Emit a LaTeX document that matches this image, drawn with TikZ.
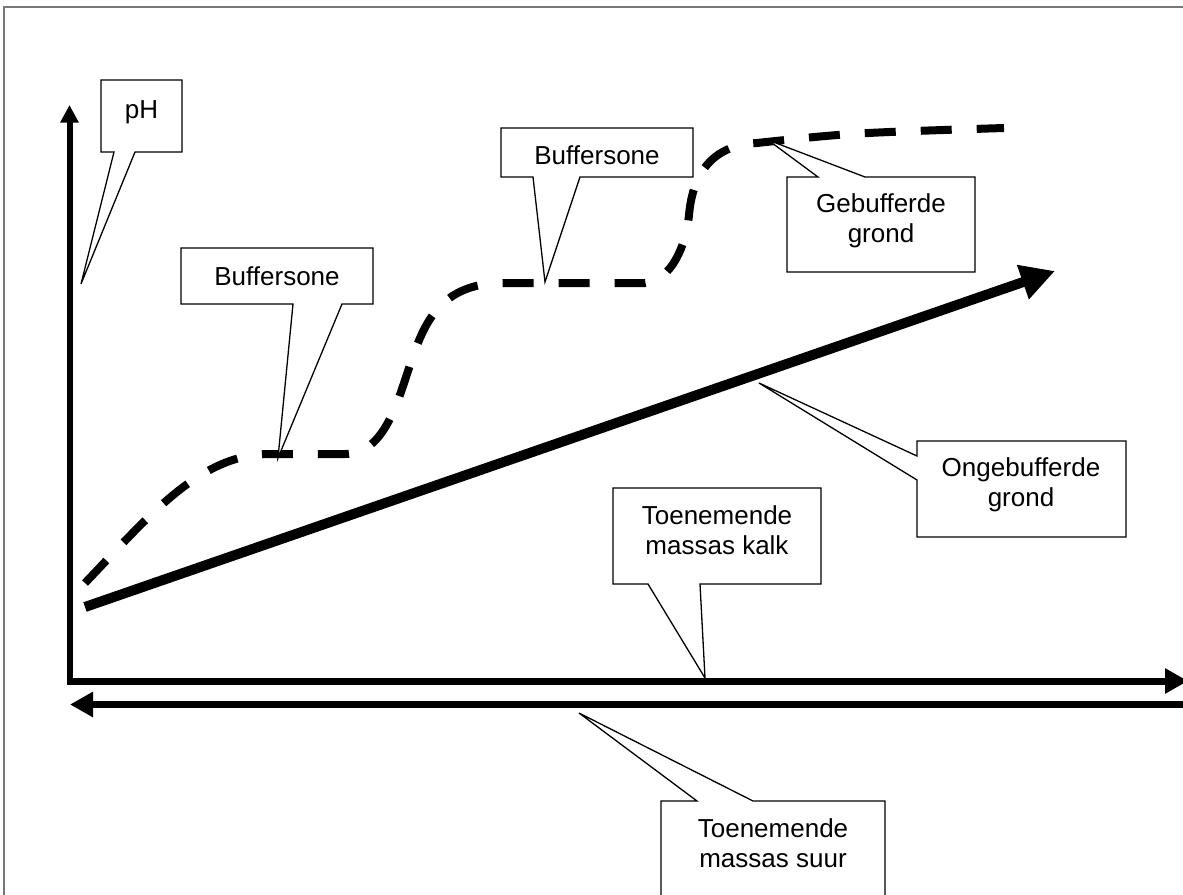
\documentclass[tikz,border=0pt]{standalone}
\usepackage{fontspec}
\setmainfont{Liberation Sans}
\usetikzlibrary{arrows.meta}
\definecolor{framegray}{RGB}{120,120,120}
\tikzset{
  vaxis/.style={line width=6pt, -{Triangle[length=17.7pt,width=17.6pt]}},
  haxis/.style={line width=7pt, -{Triangle[length=23pt,width=24pt]}},
  bigarrow/.style={line width=10pt, -{Triangle[length=34pt,width=34pt]}},
  buffered/.style={line width=8pt, dash pattern=on 31pt off 25pt},
  callout/.style={draw=black, line width=1.3pt, fill=white, line join=miter},
  lbl/.style={font=\fontsize{26}{30}\selectfont, align=center, inner sep=0pt},
}
\begin{document}
\begin{tikzpicture}[x=1pt,y=-1pt]
\useasboundingbox (0,0) rectangle (1183,894);
\clip (0,0) rectangle (1183,894);
% frame
\draw[framegray, line width=1.5pt] (4,7) rectangle (1200,910);

% axes
\coordinate (yBot) at (69.5,684);
\coordinate (yTop) at (69.5,105);
\coordinate (xLeft) at (66.5,681);
\coordinate (xRight) at (1188,681);
\coordinate (sRight) at (1200,704.5);
\coordinate (sLeft) at (70,704.5);
\draw[vaxis] (yBot) -- (yTop);
\draw[haxis] (xLeft) -- (xRight);
\draw[haxis] (sRight) -- (sLeft);

% unbuffered soil
\coordinate (uStart) at (85,607);
\coordinate (uEnd) at (1055,271);
\draw[bigarrow] (uStart) -- (uEnd);

% buffered soil
\coordinate (b0) at (85,583);
\coordinate (b1) at (270,454);
\coordinate (b2) at (345,454);
\coordinate (b3) at (411,362);
\coordinate (b4) at (503,283);
\coordinate (b5) at (645,283);
\coordinate (b6) at (689,215);
\coordinate (b7) at (757,143);
\coordinate (b8) at (1004,128);
\draw[buffered] (b0) .. controls (150,515) and (200,454) .. (b1) -- (b2)
  .. controls (385,454) and (398,400) .. (b3)
  .. controls (424,324) and (440,283) .. (b4) -- (b5)
  .. controls (672,280) and (686,245) .. (b6)
  .. controls (693,170) and (715,145) .. (b7)
  .. controls (850,133) .. (b8);

% callout tips
\coordinate (tipPH) at (81,284);
\coordinate (tipBufA) at (278,458);
\coordinate (tipBufB) at (545,282);
\coordinate (tipGeb) at (768,140);
\coordinate (tipOng) at (759,383);
\coordinate (tipKalk) at (705,678);
\coordinate (tipSuur) at (579,713);

% callouts
\draw[callout] (101,80) -- (182,80) -- (182,152) -- (135,152) -- (tipPH) -- (114,152) -- (101,152) -- cycle;
\node[lbl] (pHlbl) at (141.5,112) {pH};

\draw[callout] (181,248) -- (373,248) -- (373,304) -- (342,304) -- (tipBufA) -- (293,304) -- (181,304) -- cycle;
\node[lbl] (bufA) at (277,276) {Buffersone};

\draw[callout] (501,128) -- (693,128) -- (693,177) -- (580,177) -- (tipBufB) -- (533,177) -- (501,177) -- cycle;
\node[lbl] (bufB) at (597,155) {Buffersone};

\draw[callout] (787,177) -- (818,177) -- (tipGeb) -- (865,177) -- (975,177) -- (975,272) -- (787,272) -- cycle;
\node[lbl] (geb) at (881,221) {Gebufferde\\grond};

\draw[callout] (917,441) -- (1126,441) -- (1126,537) -- (917,537) -- (917,480) -- (tipOng) -- (917,456) -- cycle;
\node[lbl] (ong) at (1021,485) {Ongebufferde\\grond};

\draw[callout] (613,488) -- (821,488) -- (821,584) -- (700,584) -- (tipKalk) -- (648,584) -- (613,584) -- cycle;
\node[lbl] (kalk) at (717,530) {Toenemende\\massas kalk};

\draw[callout] (661,801) -- (697,801) -- (tipSuur) -- (753,801) -- (885,801) -- (885,920) -- (661,920) -- cycle;
\node[lbl] (suur) at (773,843) {Toenemende\\massas suur};
\end{tikzpicture}
\end{document}
